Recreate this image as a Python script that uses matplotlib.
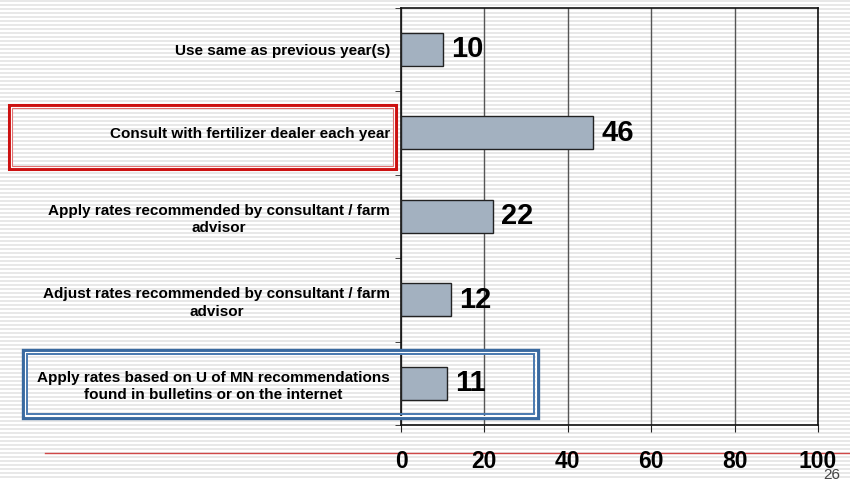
import numpy as np
import matplotlib.pyplot as plt
from matplotlib.patches import Rectangle
from matplotlib.lines import Line2D

plt.rcParams['font.family'] = ['Liberation Sans', 'DejaVu Sans']

# datos de la grafica (de arriba hacia abajo)
categorias = [
    'Use same as previous year(s)',
    'Consult with fertilizer dealer each year',
    'Apply rates recommended by consultant / farm\nadvisor',
    'Adjust rates recommended by consultant / farm\nadvisor',
    'Apply rates based on U of MN recommendations\nfound in bulletins or on the internet',
]
valores = [10, 46, 22, 12, 11]
ticks_x = [0, 20, 40, 60, 80, 100]

W, H = 850, 480
fig = plt.figure(figsize=(8.5, 4.8), dpi=100)

# fondo rayado de la diapositiva
fondo = np.ones((H, W, 3))
for fila in range(H):
    if fila % 4 in (0, 1):
        fondo[fila, :, :] = 0.91
fig.figimage(fondo, 0, 0, zorder=-10)

ax = fig.add_axes([401 / W, 1 - 425 / H, 417 / W, 417.5 / H])
ax.set_facecolor('none')
ax.set_zorder(2)

y = np.arange(len(categorias))
ax.barh(y, valores, height=0.4, color='#a3b1c0', edgecolor='#222222', linewidth=1, zorder=3)
for yi, v in zip(y, valores):
    ax.text(v + 2, yi, str(v), va='center', ha='left', fontsize=21, fontweight='bold', zorder=4)

ax.set_xlim(0, 100)
ax.set_ylim(len(categorias) - 0.5, -0.5)
ax.set_xticks(ticks_x)
ax.set_xticklabels([str(t) for t in ticks_x], fontsize=16.5, fontweight='bold')
ax.set_yticks(y)
ax.set_yticklabels(categorias, fontsize=11, fontweight='bold', multialignment='center',
                   linespacing=1.3)
ax.set_yticks(np.arange(-0.5, len(categorias)), minor=True)
ax.tick_params(axis='y', which='major', length=0, pad=8)
ax.tick_params(axis='y', which='minor', length=4, direction='out', color='#222222')
ax.tick_params(axis='x', length=5, direction='out', pad=13, color='#222222')

# cuadricula vertical
ax.grid(axis='x', color='#555555', linewidth=1, zorder=1)
for lado in ['left', 'right', 'top', 'bottom']:
    ax.spines[lado].set_color('#111111')
    ax.spines[lado].set_linewidth(1.2)

# cuadros resaltando etiquetas
def caja(x0, y0, x1, y1, color, lw, **kw):
    r = Rectangle((x0 / W, 1 - y1 / H), (x1 - x0) / W, (y1 - y0) / H,
                  transform=fig.transFigure, fill=False, edgecolor=color,
                  linewidth=lw, zorder=5, **kw)
    fig.add_artist(r)

caja(9, 105, 396, 169, '#cc1111', 2.2)
caja(11, 107, 394, 167, '#ffffff', 0.8)
caja(12, 108, 393, 166, '#e07070', 0.8)

caja(23, 350, 538, 418, '#3a6aa0', 2.4)
caja(25, 352, 536, 416, '#ffffff', 0.8)
caja(27, 354, 534, 414, '#4a7ab0', 1.4)

# linea roja de la diapositiva y numero de pagina
fig.add_artist(Line2D([45 / W, 1], [1 - 453 / H, 1 - 453 / H], transform=fig.transFigure,
                      color='#d04848', linewidth=1, zorder=1))
fig.text(832 / W, 1 - 468 / H, '26', ha='center', va='top', fontsize=11, color='#444444')

fig.savefig('out.png', dpi=100)
